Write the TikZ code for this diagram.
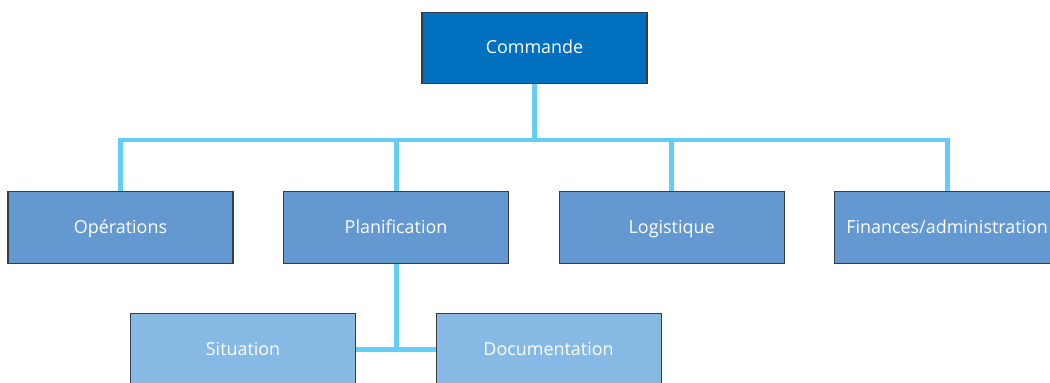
\documentclass[tikz,border=0pt]{standalone}
\usepackage{fontspec}
\setmainfont{Open Sans}
\usetikzlibrary{positioning,calc,backgrounds}
\definecolor{chefblue}{RGB}{0,112,190}
\definecolor{unitblue}{RGB}{100,152,209}
\definecolor{subblue}{RGB}{134,185,227}
\definecolor{linkcyan}{RGB}{100,205,245}
\definecolor{edgegray}{RGB}{55,60,65}

\begin{document}
\begin{tikzpicture}[
 node distance=0.99cm and 0.99cm,
 box/.style={rectangle, draw=edgegray, line width=0.6pt, minimum width=4.5cm, minimum height=1.43cm, inner sep=0pt, text height=1.6ex, text depth=0.4ex, align=center, text=white, font=\fontsize{10.2}{12}\selectfont},
 chefbox/.style={box, fill=chefblue},
 unitbox/.style={box, fill=unitblue},
 subbox/.style={box, fill=subblue},
 link/.style={line width=2.8pt, color=linkcyan}
]
\useasboundingbox (0,0) rectangle (21,-7.66);

% Top: command
\node[chefbox] (commande) at (10.69,-0.96) {Commande};

% Row 2: sections
\node[unitbox] (operations) at (2.41,-4.55) {Opérations};
\node[unitbox, right=of operations] (planification) {Planification};
\node[unitbox, right=of planification] (logistique) {Logistique};
\node[unitbox, right=of logistique] (finances) {Finances/administration};

% Row 3: planning units
\node[subbox, below=of planification, xshift=-3.06cm] (situation) {Situation};
\node[subbox, below=of planification, xshift=3.05cm] (documentation) {Documentation};

% Connectors
\coordinate (bus) at (10.69,-2.8);
\begin{scope}[on background layer]
\draw[link] (commande.south) -- (bus);
\draw[link] (operations.north) |- (bus) -| (finances.north);
\foreach \n in {planification,logistique}
  \draw[link] (\n.north) -- (\n.north |- bus);
\draw[link] (situation.east) -- (documentation.west);
\draw[link] (planification.south) -- (planification.south |- situation.east);
\end{scope}

\end{tikzpicture}
\end{document}
